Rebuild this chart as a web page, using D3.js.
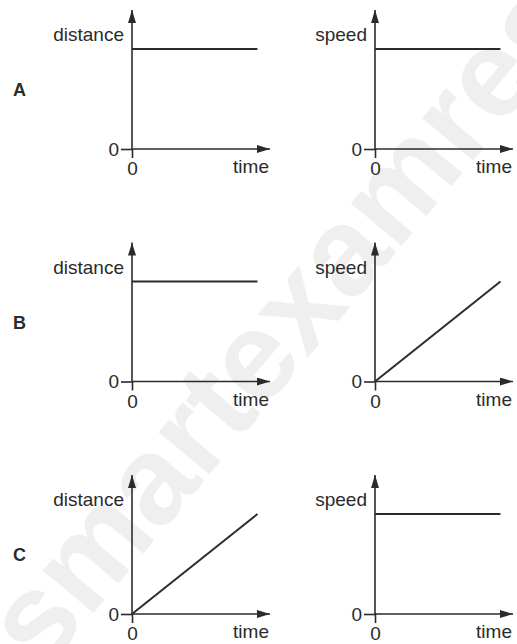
<!DOCTYPE html>
<html>
<head>
<meta charset="utf-8">
<script src="https://cdn.jsdelivr.net/npm/d3@7"></script>
<style>
  html, body { margin: 0; padding: 0; background: #fff; }
  svg { display: block; font-family: "Liberation Sans", Arial, sans-serif; }
</style>
</head>
<body>
<svg id="chart" width="517" height="644"></svg>
<script>
// ---- data ----
const rows = ["A", "B", "C"];
const panels = ["distance", "speed"];
const xAxisLabel = "time";
const timeValues = [0, 1];
const distanceValues = [[1, 1], [1, 1], [0, 1]];
const speedValues = [[1, 1], [0, 1], [1, 1]];
const tickValues = [0];
const tickLabels = ["0"];
const watermark = "smartexamresources";

const seriesByPanel = { distance: distanceValues, speed: speedValues };

// ---- layout ----
const ink = "#2b2b2b";
const svg = d3.select("#chart");

// watermark
svg.append("text")
  .attr("transform", "translate(43,673) rotate(-50)")
  .attr("font-size", 125)
  .attr("font-weight", "bold")
  .attr("fill", "#efefef")
  .text(watermark);

const rowScale = d3.scaleLinear().domain([0, rows.length - 1]).range([149, 614]);
const colScale = d3.scaleOrdinal().domain(panels).range([132, 375]);

// inner scales (relative to origin)
const xMax = 1.1, yMax = 1.39;
const x = d3.scaleLinear().domain([0, xMax]).range([0, 138]);
const y = d3.scaleLinear().domain([0, yMax]).range([0, -139]);

// arrow marker
const defs = svg.append("defs");
defs.append("marker")
  .attr("id", "arrow")
  .attr("viewBox", "0 0 13 8")
  .attr("refX", 13).attr("refY", 4)
  .attr("markerWidth", 13).attr("markerHeight", 8)
  .attr("markerUnits", "userSpaceOnUse")
  .attr("orient", "auto")
  .append("path")
  .attr("d", "M0,0 L13,4 L0,8 Z")
  .attr("fill", ink);

const line = d3.line().x(d => x(d[0])).y(d => y(d[1]));

rows.forEach((r, i) => {
  const oy = rowScale(i);
  // row letter
  svg.append("text")
    .attr("x", 13).attr("y", oy - 53)
    .attr("font-size", 18).attr("font-weight", "bold")
    .attr("fill", ink)
    .text(r);

  panels.forEach(p => {
    const ox = colScale(p);
    const g = svg.append("g").attr("transform", `translate(${ox},${oy})`);

    const ya = g.append("g").call(
      d3.axisLeft(y).tickValues(tickValues).tickFormat((d, k) => tickLabels[k])
        .tickSize(11).tickSizeOuter(0).tickPadding(2)
    );
    const xa = g.append("g").call(
      d3.axisBottom(x).tickValues(tickValues).tickFormat((d, k) => tickLabels[k])
        .tickSize(9).tickSizeOuter(0).tickPadding(4)
    );
    [ya, xa].forEach(a => {
      a.select(".domain").remove();
      a.selectAll("line").attr("stroke", ink).attr("stroke-width", 1.6);
      a.selectAll("text").attr("font-size", 19).attr("fill", ink)
        .attr("font-family", "'Liberation Sans', Arial, sans-serif");
    });

    // axis lines with arrows
    g.append("line")
      .attr("x1", x(0)).attr("y1", y(0)).attr("x2", x(0)).attr("y2", y(yMax))
      .attr("stroke", ink).attr("stroke-width", 1.6)
      .attr("marker-end", "url(#arrow)");
    g.append("line")
      .attr("x1", x(0)).attr("y1", y(0)).attr("x2", x(xMax)).attr("y2", y(0))
      .attr("stroke", ink).attr("stroke-width", 1.6)
      .attr("marker-end", "url(#arrow)");

    // axis titles
    g.append("text")
      .attr("x", -8).attr("y", y(yMax) + 31)
      .attr("text-anchor", "end")
      .attr("font-size", 19).attr("fill", ink)
      .text(p);
    g.append("text")
      .attr("x", x(xMax) - 1).attr("y", 24)
      .attr("text-anchor", "end")
      .attr("font-size", 19).attr("fill", ink)
      .text(xAxisLabel);

    // data line
    const vals = seriesByPanel[p][i];
    g.append("path")
      .datum(timeValues.map((t, k) => [t, vals[k]]))
      .attr("d", line)
      .attr("fill", "none")
      .attr("stroke", ink)
      .attr("stroke-width", 2);
  });
});
</script>
</body>
</html>
